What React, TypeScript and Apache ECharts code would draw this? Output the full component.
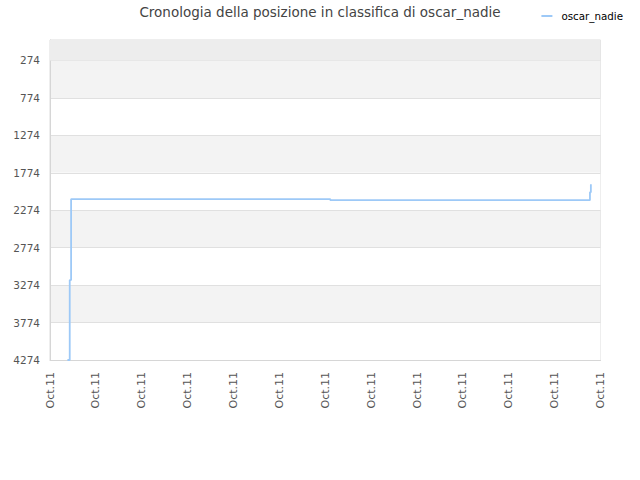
import React, { useEffect, useRef } from 'react';
import * as echarts from 'echarts';

const TITLE = 'Cronologia della posizione in classifica di oscar_nadie';
const SERIES_NAME = 'oscar_nadie';
const X_LABEL = 'Oct.11';
const X_MIN = 0;
const X_MAX = 12;
// position along the day (in x-label steps) and rank at each change
const RANK_X = [0.38, 0.43, 0.46, 6.11, 11.77, 11.79];
const RANK_Y = [4274, 3207, 2125, 2140, 2034, 1927];
const Y_TICK_LABELS = [274, 774, 1274, 1774, 2274, 2774, 3274, 3774, 4274];
const BEST_RANK = 1;

export default function App() {
  const ref = useRef<HTMLDivElement>(null);
  useEffect(() => {
    if (!ref.current) return;
    const chart = echarts.init(ref.current, undefined, { renderer: 'svg' });
    const font = 'DejaVu Sans';
    const yMin = BEST_RANK;
    const yMax = Y_TICK_LABELS[Y_TICK_LABELS.length - 1];
    const xTicks: number[] = [];
    for (let i = X_MIN; i <= X_MAX; i++) xTicks.push(i);
    chart.setOption({
      animation: false,
      backgroundColor: '#ffffff',
      textStyle: { fontFamily: font },
      title: {
        text: TITLE,
        left: 'center',
        top: 0,
        textStyle: { fontFamily: font, fontSize: 13.5, fontWeight: 'normal', color: '#444444' },
      },
      legend: {
        right: 12,
        top: 6,
        icon: 'rect',
        itemWidth: 11,
        itemHeight: 2,
        itemGap: 6,
        itemStyle: { color: '#9dc9f7' },
        textStyle: { fontFamily: font, fontSize: 10.3, color: '#000000', padding: [0, 0, 0, 4] },
        data: [SERIES_NAME],
      },
      grid: {
        left: 50,
        right: 39.5,
        top: 40,
        bottom: 120,
        show: true,
        borderColor: '#dddddd',
        borderWidth: 1,
        backgroundColor: 'transparent',
      },
      xAxis: {
        type: 'value',
        min: X_MIN,
        max: X_MAX,
        interval: 1,
        axisLine: { show: true, lineStyle: { color: '#d6d6d6' } },
        axisTick: { show: false, customValues: xTicks },
        splitLine: { show: false },
        axisLabel: {
          rotate: 90,
          margin: 12,
          fontFamily: font,
          fontSize: 11,
          color: '#555555',
          customValues: xTicks,
          formatter: () => X_LABEL,
        },
      },
      yAxis: {
        type: 'value',
        inverse: true,
        min: yMin,
        max: yMax,
        axisLine: { show: true, lineStyle: { color: '#d6d6d6' } },
        axisTick: { show: false, customValues: Y_TICK_LABELS },
        splitLine: { show: true, lineStyle: { color: '#e0e0e0' } },
        splitArea: { show: true, areaStyle: { color: ['#f3f3f3', '#ffffff'] } },
        axisLabel: {
          margin: 10,
          fontFamily: font,
          fontSize: 10.5,
          color: '#555555',
          customValues: Y_TICK_LABELS,
          formatter: (v: number) => String(v),
        },
      },
      series: [
        {
          name: SERIES_NAME,
          type: 'line',
          step: 'end',
          showSymbol: false,
          symbol: 'none',
          lineStyle: { color: '#9dc9f7', width: 1.8 },
          itemStyle: { color: '#9dc9f7' },
          data: RANK_X.map((x, i) => [x, RANK_Y[i]]),
          markArea: {
            silent: true,
            itemStyle: { color: '#ededed' },
            data: [[{ yAxis: yMin }, { yAxis: Y_TICK_LABELS[0] }]],
          },
        },
      ],
    });
    return () => chart.dispose();
  }, []);
  return (
    <div
      ref={ref}
      style={{ position: 'fixed', left: 0, top: 0, width: 640, height: 480 }}
    />
  );
}
